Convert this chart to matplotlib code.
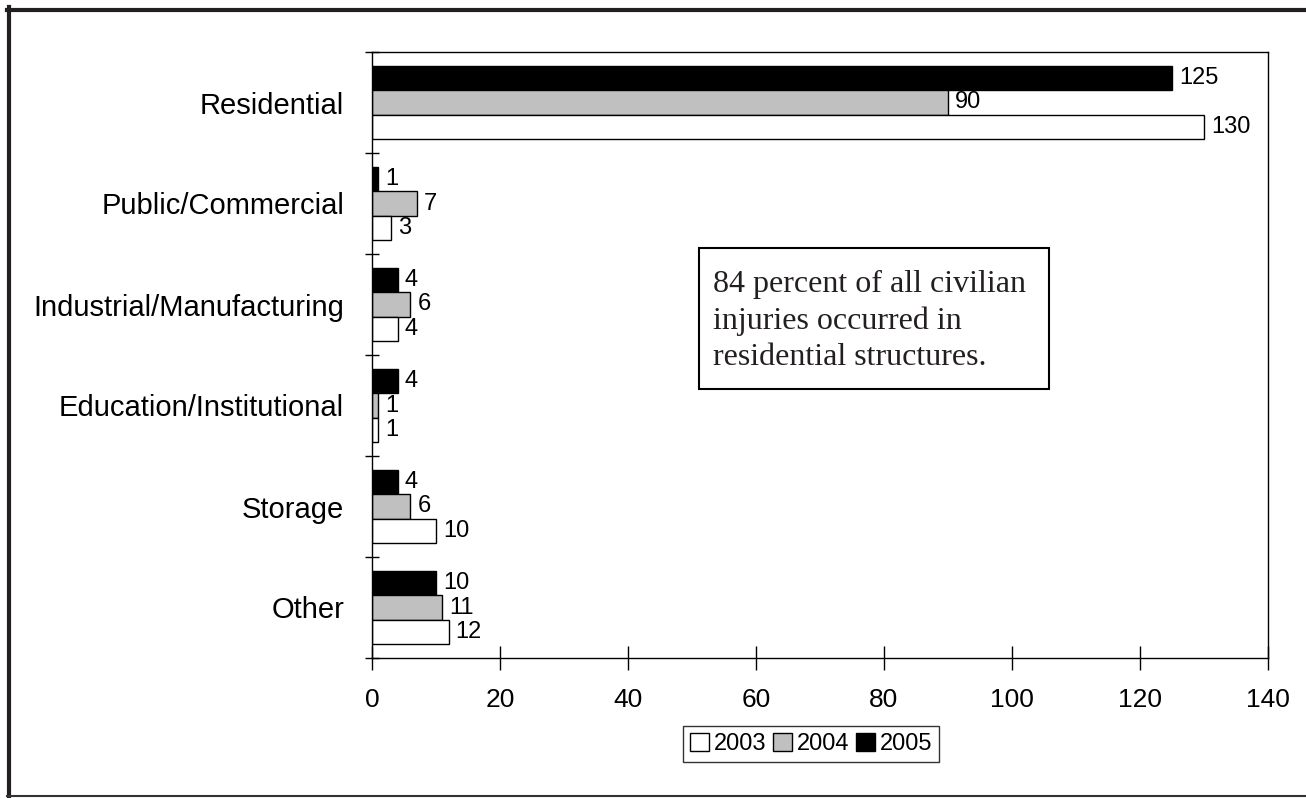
import matplotlib
matplotlib.use("Agg")
import numpy as np
import matplotlib.pyplot as plt
from matplotlib.lines import Line2D
from matplotlib.patches import Rectangle, Patch

# data
categories = ["Residential", "Public/Commercial", "Industrial/Manufacturing",
              "Education/Institutional", "Storage", "Other"]
years = ["2003", "2004", "2005"]
v2003 = [130, 3, 4, 1, 10, 12]
v2004 = [90, 7, 6, 1, 6, 11]
v2005 = [125, 1, 4, 4, 4, 10]
note = "84 percent of all civilian\ninjuries occurred in\nresidential structures."

plt.rcParams["font.family"] = ["Liberation Sans", "DejaVu Sans"]

fig = plt.figure(figsize=(13.06, 7.98), dpi=100)
ax = fig.add_axes([372 / 1306, 1 - 658 / 798, 896 / 1306, 606 / 798])

y = np.arange(len(categories))
h = 0.243
series = [(v2005, "black", -h), (v2004, "#c0c0c0", 0), (v2003, "white", h)]
for vals, col, off in series:
    bars = ax.barh(y + off, vals, height=h, color=col, edgecolor="black", linewidth=1)
    for b, v in zip(bars, vals):
        ax.annotate(str(v), (b.get_width(), b.get_y() + b.get_height() / 2),
                    xytext=(5, 0), textcoords="offset points",
                    va="center", ha="left", fontsize=17)

ax.set_xlim(0, 140)
ax.set_ylim(len(categories) - 0.5, -0.5)
ax.set_xticks(np.arange(0, 141, 20))
ax.tick_params(axis="x", direction="inout", length=17, width=1, labelsize=19, pad=13)

ax.set_yticks(np.arange(-0.5, len(categories), 1))
ax.set_yticklabels([])
ax.set_yticks(y, minor=True)
ax.set_yticklabels(categories, minor=True)
ax.tick_params(axis="y", which="major", direction="inout", length=10, width=1)
ax.tick_params(axis="y", which="minor", length=0, labelsize=21, pad=20)

for s in ax.spines.values():
    s.set_linewidth(1)

# note box
ax.add_patch(Rectangle((0.365, 0.444), 0.391, 0.233, transform=ax.transAxes,
                       facecolor="white", edgecolor="black", linewidth=1.5))
ax.text(0.381, 0.556, note, transform=ax.transAxes, ha="left", va="center",
        fontsize=23, family="Liberation Serif", linespacing=1.33, color="#231f20")

handles = [Patch(facecolor=c, edgecolor="black", linewidth=1)
           for c in ["white", "#c0c0c0", "black"]]
fig.legend(handles, years, loc="center", bbox_to_anchor=(0.621, 0.0677), ncol=3,
           fontsize=17, frameon=True, fancybox=False, edgecolor="black",
           handlelength=0.8, handleheight=0.8, handletextpad=0.2,
           columnspacing=0.3, borderpad=0.3, borderaxespad=0)

# outer frame
fig.add_artist(Line2D([9 / 1306, 9 / 1306], [1 - 7 / 798, 1 - 797 / 798],
                      transform=fig.transFigure, color="#231f20", linewidth=3))
fig.add_artist(Line2D([7 / 1306, 1], [1 - 9.5 / 798, 1 - 9.5 / 798],
                      transform=fig.transFigure, color="#231f20", linewidth=3))
fig.add_artist(Line2D([7 / 1306, 1], [1 - 796 / 798, 1 - 796 / 798],
                      transform=fig.transFigure, color="#333333", linewidth=1.5))

fig.savefig("out.png", dpi=100)
